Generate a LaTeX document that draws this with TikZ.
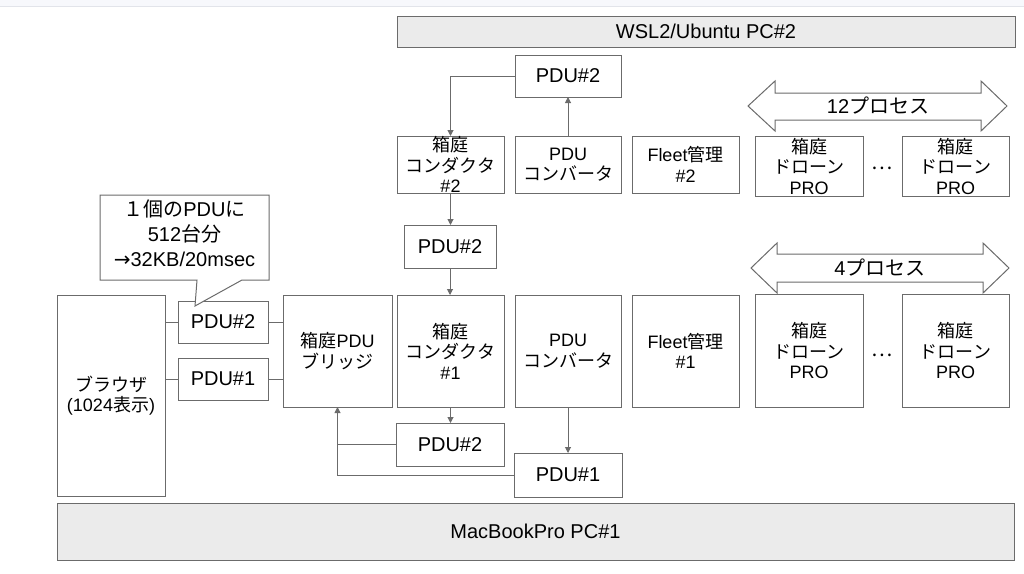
\documentclass[tikz,border=0pt]{standalone}
\usepackage{fontspec}
\setmainfont{Liberation Sans}
\newfontfamily\jp{Noto Sans CJK JP}
\newfontfamily\djv{DejaVu Sans}
\usetikzlibrary{arrows.meta}
\definecolor{edge}{HTML}{6B6B6B}
\definecolor{barfill}{HTML}{EBEBEB}
\definecolor{bandfill}{HTML}{F7F8FC}
\definecolor{bandline}{HTML}{E2E4EA}
\begin{document}
\begin{tikzpicture}[x=1pt,y=-1pt,
  box/.style={draw=edge, line width=1pt, fill=white, inner sep=0pt, outer sep=0pt,
    align=center, font=\fontsize{18}{20.5}\selectfont},
  pdubox/.style={box, font=\fontsize{20}{24}\selectfont},
  bar/.style={box, fill=barfill, font=\fontsize{20}{24}\selectfont},
  lbl/.style={inner sep=0pt, align=center, font=\fontsize{20}{25}\selectfont},
  conn/.style={draw=edge, line width=1pt},
  arr/.style={conn, -{Triangle[length=6pt,width=6pt]}},
  fat/.style={draw=edge, line width=1pt, fill=white, line join=miter},
]
\useasboundingbox (0,0) rectangle (1024,573);
\fill[bandfill] (0,0) rectangle (1024,6);
\draw[bandline, line width=1pt] (0,6) -- (1024,6);

% bars
\node[bar, minimum width=618pt, minimum height=31pt] (wsl) at (706,31.5) {WSL2/Ubuntu PC\#2};
\node[bar, minimum width=957pt, minimum height=57pt] (mac) at (535.5,531.5) {MacBookPro PC\#1};

% upper (PC#2) part
\node[pdubox, minimum width=106pt, minimum height=42pt] (pdu2top) at (568,76) {PDU\#2};
\node[box, minimum width=107pt, minimum height=57pt] (cond2) at (450.5,164.5) {{\jp 箱庭}\\{\jp コンダクタ}\\\#2};
\node[box, minimum width=106pt, minimum height=57pt] (conv2) at (568,164.5) {PDU\\{\jp コンバータ}};
\node[box, minimum width=107pt, minimum height=57pt] (fleet2) at (685.5,164.5) {Fleet{\jp 管理}\\\#2};
\node[pdubox, minimum width=92pt, minimum height=43pt] (pdu2mid) at (450,246.5) {PDU\#2};

% drones, 12 processes
\draw[fat] (748,106) -- (775,81) -- (775,93) -- (981,93) -- (981,81) -- (1007,106)
  -- (981,131) -- (981,120) -- (775,120) -- (775,131) -- cycle;
\node[lbl] (p12) at (878,106) {12{\jp プロセス}};
\node[box, minimum width=108pt, minimum height=60pt] (dr2a) at (809,166) {{\jp 箱庭}\\{\jp ドローン}\\PRO};
\node[box, minimum width=107pt, minimum height=60pt] (dr2b) at (955.5,166) {{\jp 箱庭}\\{\jp ドローン}\\PRO};
\node[lbl] (dots2) at (882,168) {{\jp …}};

% drones, 4 processes
\draw[fat] (751,268) -- (777,243) -- (777,254) -- (983,254) -- (983,243) -- (1009,268)
  -- (983,293) -- (983,282) -- (777,282) -- (777,293) -- cycle;
\node[lbl] (p4) at (880,268) {4{\jp プロセス}};
\node[box, minimum width=108pt, minimum height=113pt] (dr1a) at (809,350.5) {{\jp 箱庭}\\{\jp ドローン}\\PRO};
\node[box, minimum width=107pt, minimum height=113pt] (dr1b) at (955.5,350.5) {{\jp 箱庭}\\{\jp ドローン}\\PRO};
\node[lbl] (dots1) at (882,355) {{\jp …}};

% lower (PC#1) part
\node[box, minimum width=108pt, minimum height=201pt] (browser) at (111,395.5) {{\jp ブラウザ}\\(1024{\jp 表示})};
\node[pdubox, minimum width=90pt, minimum height=42pt] (pdu2l) at (223,322) {PDU\#2};
\node[pdubox, minimum width=90pt, minimum height=42pt] (pdu1l) at (223,379) {PDU\#1};
\node[box, minimum width=109pt, minimum height=112pt] (bridge) at (337.5,351) {{\jp 箱庭}PDU\\{\jp ブリッジ}};
\node[box, minimum width=107pt, minimum height=112pt] (cond1) at (450.5,351) {{\jp 箱庭}\\{\jp コンダクタ}\\\#1};
\node[box, minimum width=106pt, minimum height=112pt] (conv1) at (568,351) {PDU\\{\jp コンバータ}};
\node[box, minimum width=107pt, minimum height=112pt] (fleet1) at (685.5,351) {Fleet{\jp 管理}\\\#1};
\node[pdubox, minimum width=108pt, minimum height=43pt] (pdu2low) at (450,444.5) {PDU\#2};
\node[pdubox, minimum width=108pt, minimum height=44pt] (pdu1low) at (568,475) {PDU\#1};

% callout
\draw[fat] (100,195) -- (269,195) -- (269,280) -- (242,280) -- (195,306) -- (197,280)
  -- (100,280) -- cycle;
\node[lbl] (note) at (184.5,233) {{\jp １個の}PDU{\jp に}\\512{\jp 台分}\\{\djv →}32KB/20msec};

% connectors
\draw[conn] (browser.east |- pdu2l) -- (pdu2l.west);
\draw[conn] (pdu2l.east) -- (bridge.west |- pdu2l);
\draw[conn] (browser.east |- pdu1l) -- (pdu1l.west);
\draw[conn] (pdu1l.east) -- (bridge.west |- pdu1l);

\draw[arr] (pdu2top.west) -| (cond2.north);
\draw[arr] (conv2.north) -- (pdu2top.south);
\draw[arr] (cond2.south) -- (cond2.south |- pdu2mid.north);
\draw[arr] (pdu2mid.south) -- (pdu2mid.south |- cond1.north);
\draw[arr] (cond1.south) -- (cond1.south |- pdu2low.north);
\draw[arr] (conv1.south) -- (pdu1low.north);
\draw[conn] (pdu2low.west) -- (bridge.south |- pdu2low.west);
\draw[arr] (pdu1low.west) -| (bridge.south);
\end{tikzpicture}
\end{document}
